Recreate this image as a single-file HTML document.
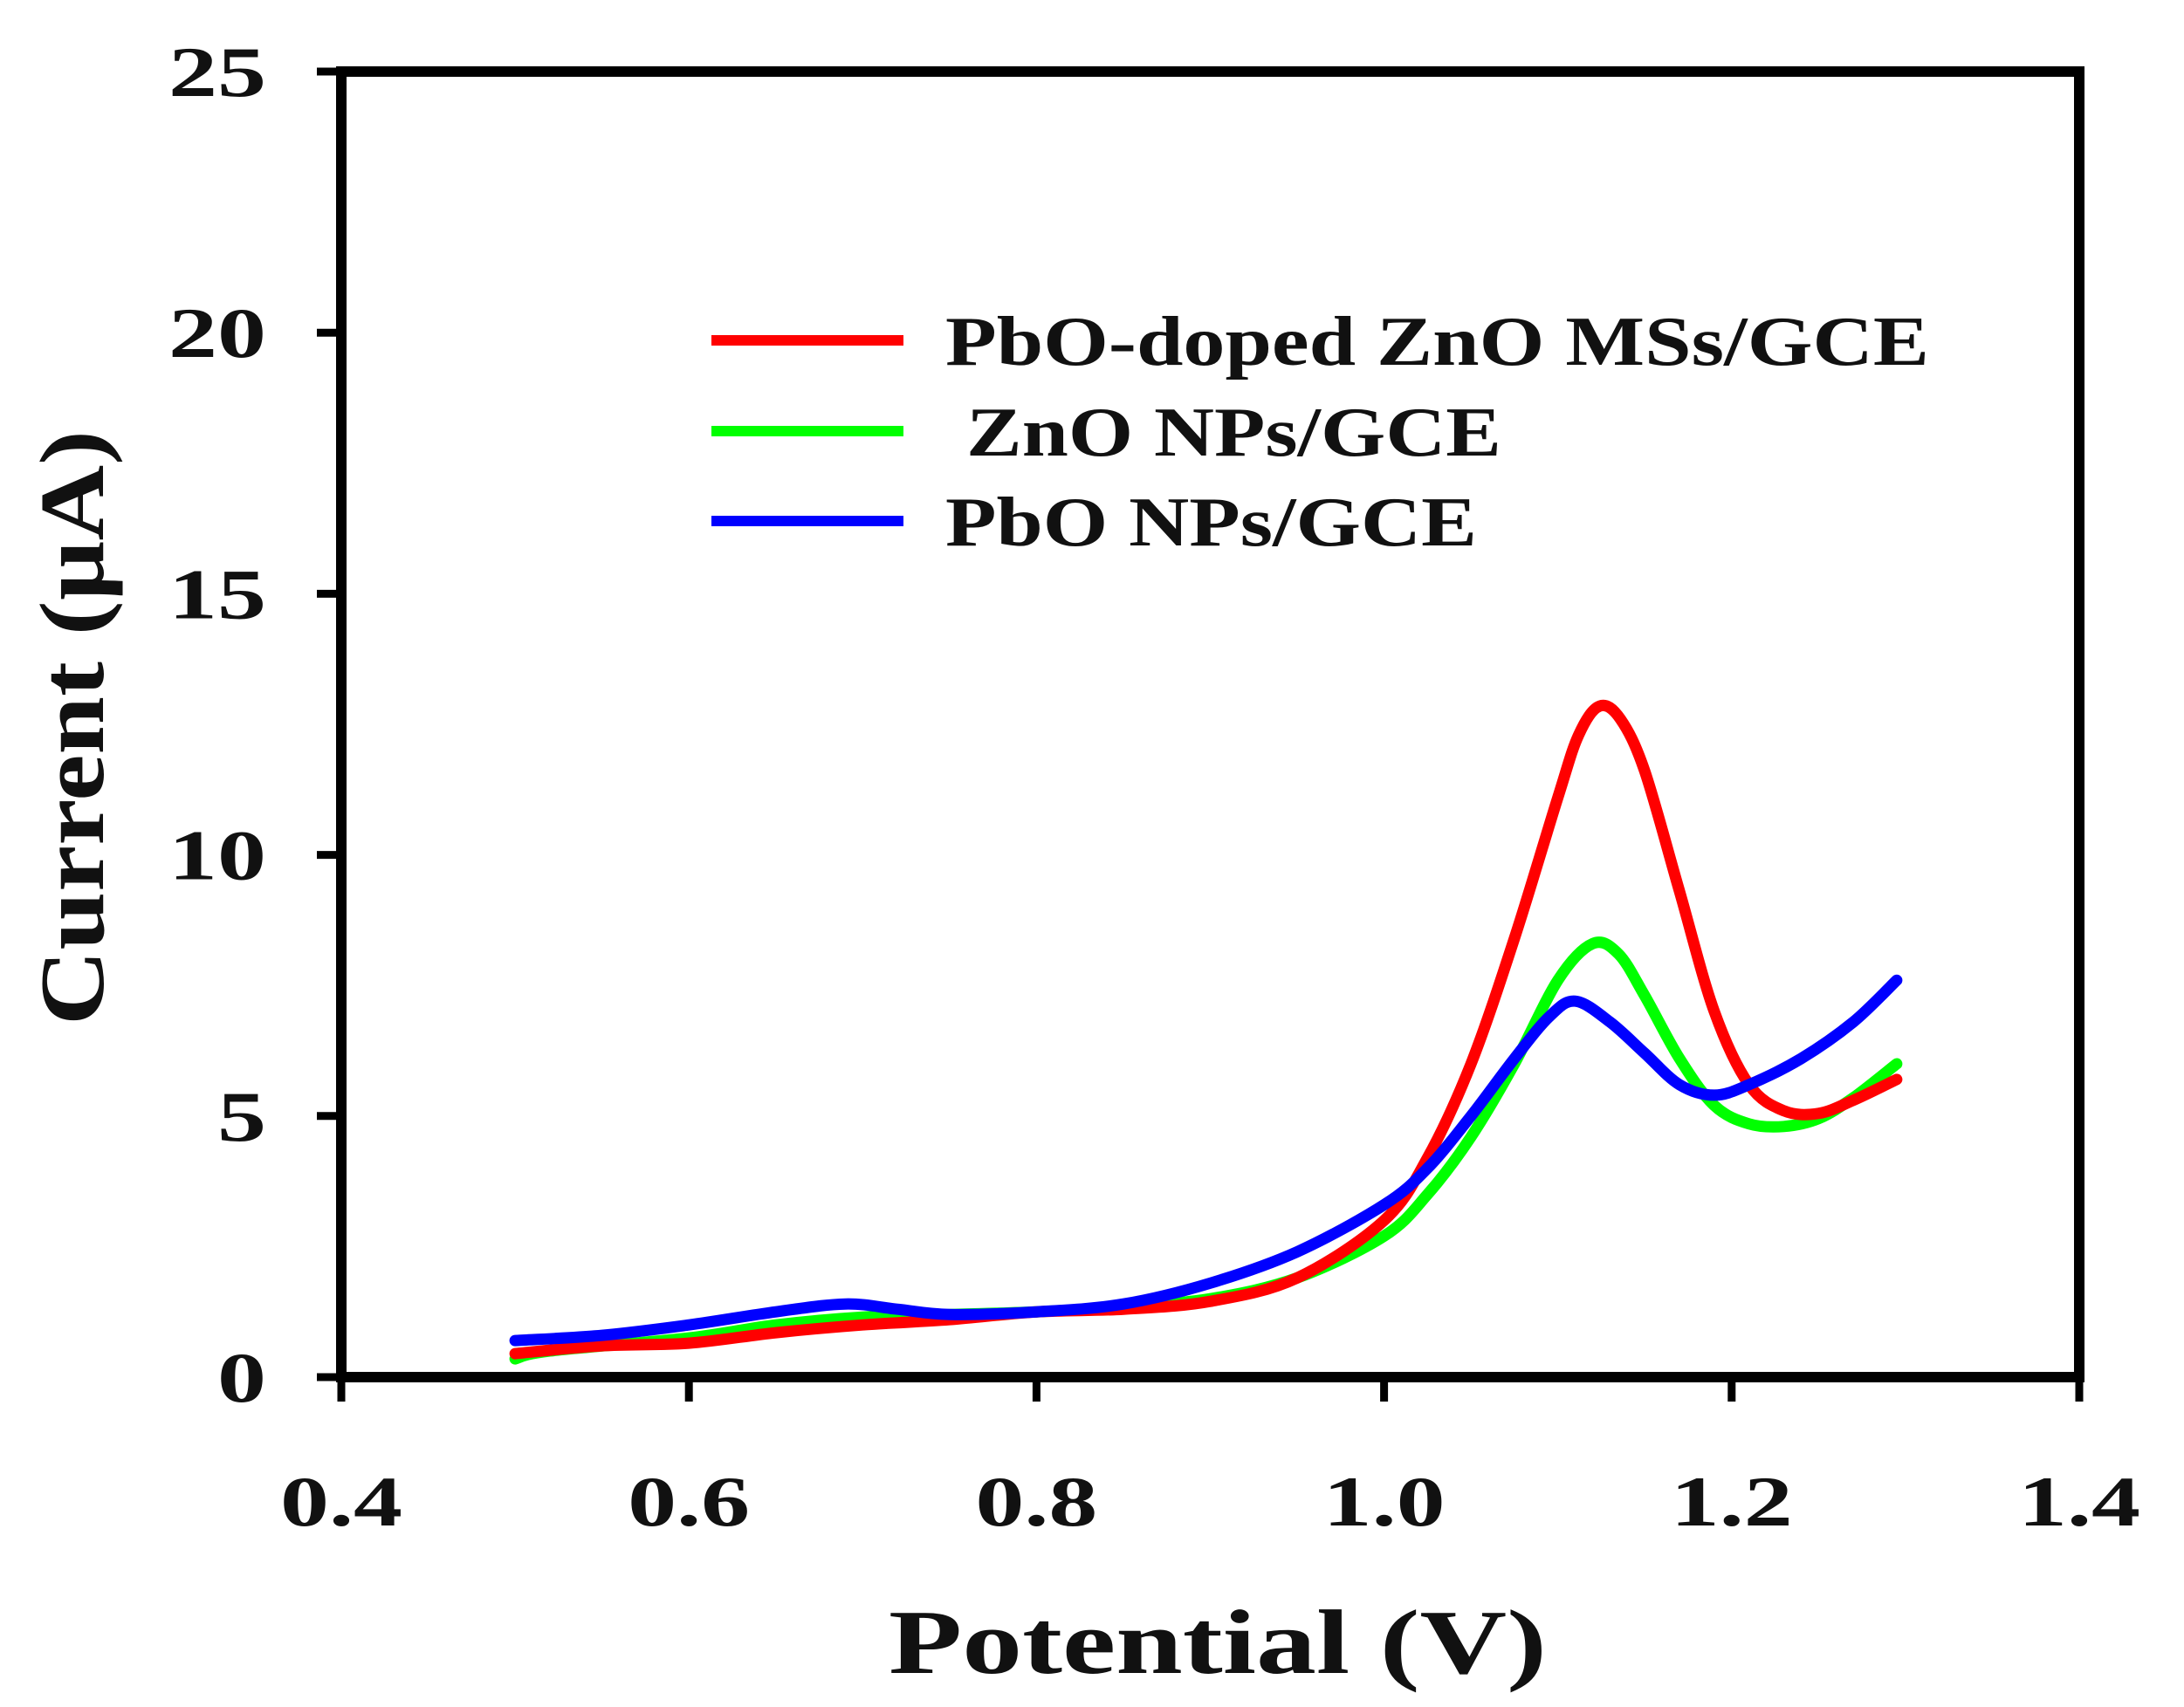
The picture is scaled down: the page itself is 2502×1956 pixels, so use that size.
<!DOCTYPE html>
<html><head><meta charset="utf-8"><style>
html,body{margin:0;padding:0;background:#fff}
svg{display:block}
text{font-family:"Liberation Serif",serif;font-weight:bold;fill:#111}
</style></head><body>
<svg id="chart" width="2502" height="1956" viewBox="0 0 2502 1956" xmlns="http://www.w3.org/2000/svg">
<rect x="391" y="82" width="1991" height="1496" fill="#fff" stroke="#000" stroke-width="12"/>
<g id="axes"></g>
<g id="series"></g>
<g id="legend">
  <line x1="815" y1="390" x2="1035" y2="390" stroke="#ff0000" stroke-width="12"/>
  <text x="1083" y="418" font-size="80" textLength="1127" lengthAdjust="spacingAndGlyphs">PbO-doped ZnO MSs/GCE</text>
  <line x1="815" y1="494" x2="1035" y2="494" stroke="#00ff00" stroke-width="12"/>
  <text x="1107" y="522" font-size="80" textLength="613" lengthAdjust="spacingAndGlyphs">ZnO NPs/GCE</text>
  <line x1="815" y1="597" x2="1035" y2="597" stroke="#0000ff" stroke-width="12"/>
  <text x="1083" y="625" font-size="80" textLength="609" lengthAdjust="spacingAndGlyphs">PbO NPs/GCE</text>
</g>
<text x="1395" y="1917" font-size="105" text-anchor="middle" textLength="754" lengthAdjust="spacingAndGlyphs">Potential (V)</text>
<text transform="translate(118,834) rotate(-90)" font-size="105" text-anchor="middle" textLength="682" lengthAdjust="spacingAndGlyphs">Current (µA)</text>
</svg>
<script>
const xTicks=[0.4,0.6,0.8,1.0,1.2,1.4];
const xTickLabels=["0.4","0.6","0.8","1.0","1.2","1.4"];
const yTicks=[0,5,10,15,20,25];
const yTickLabels=["0","5","10","15","20","25"];
const redX=[0.5,0.55,0.6,0.65,0.7,0.75,0.8,0.85,0.9,0.95,1.0,1.025,1.05,1.075,1.1,1.112,1.124,1.136,1.15,1.17,1.19,1.21,1.23,1.25,1.27,1.295];
const redY=[0.45,0.6,0.65,0.85,1.0,1.1,1.25,1.3,1.45,1.9,3.0,4.2,6.0,8.4,11.1,12.3,12.85,12.6,11.6,9.3,7.0,5.6,5.1,5.05,5.3,5.7];
const greenX=[0.5,0.52,0.6,0.65,0.7,0.75,0.8,0.85,0.9,0.95,1.0,1.025,1.05,1.075,1.1,1.12,1.135,1.15,1.17,1.19,1.21,1.23,1.25,1.27,1.295];
const greenY=[0.35,0.5,0.75,1.0,1.15,1.2,1.25,1.35,1.5,1.9,2.7,3.5,4.6,6.0,7.6,8.3,8.1,7.3,6.1,5.2,4.85,4.8,4.95,5.35,6.0];
const blueX=[0.5,0.55,0.6,0.65,0.69,0.72,0.75,0.8,0.85,0.9,0.95,1.0,1.025,1.05,1.075,1.095,1.11,1.13,1.15,1.17,1.19,1.21,1.24,1.27,1.295];
const blueY=[0.7,0.8,1.0,1.25,1.4,1.3,1.2,1.25,1.4,1.8,2.4,3.3,4.0,5.0,6.1,6.9,7.2,6.8,6.2,5.6,5.4,5.6,6.1,6.8,7.6];

const NS="http://www.w3.org/2000/svg";
const X0=391,X1=2382,Y0=1578,Y1=82;
function sx(v){return X0+(v-0.4)/(1.4-0.4)*(X1-X0);}
function sy(v){return Y0-(v/25)*(Y0-Y1);}
const axes=document.getElementById('axes');
xTicks.forEach((t,i)=>{
  const l=document.createElementNS(NS,'line');
  l.setAttribute('x1',sx(t));l.setAttribute('x2',sx(t));l.setAttribute('y1',Y0);l.setAttribute('y2',Y0+28);
  l.setAttribute('stroke','#000');l.setAttribute('stroke-width','9');
  
  
  axes.appendChild(l);
  const tx=document.createElementNS(NS,'text');
  tx.setAttribute('x',sx(t));tx.setAttribute('y',1748);tx.setAttribute('font-size','82');
  tx.setAttribute('text-anchor','middle');tx.setAttribute('textLength','140');tx.setAttribute('lengthAdjust','spacingAndGlyphs');
  tx.textContent=xTickLabels[i];
  
  
  axes.appendChild(tx);
});
yTicks.forEach((t,i)=>{
  const l=document.createElementNS(NS,'line');
  l.setAttribute('x1',X0-28);l.setAttribute('x2',X0);l.setAttribute('y1',sy(t));l.setAttribute('y2',sy(t));
  l.setAttribute('stroke','#000');l.setAttribute('stroke-width','9');
  
  
  axes.appendChild(l);
  const tx=document.createElementNS(NS,'text');
  tx.setAttribute('x',305);tx.setAttribute('y',sy(t)+28);tx.setAttribute('font-size','82');
  tx.setAttribute('text-anchor','end');
  tx.setAttribute('textLength',yTickLabels[i].length*56);tx.setAttribute('lengthAdjust','spacingAndGlyphs');
  tx.textContent=yTickLabels[i];
  
  
  axes.appendChild(tx);
});
const series=document.getElementById('series');
function drawSeries(xs,ys,color,name){
  const P=xs.map((x,i)=>[sx(x),sy(ys[i])]);
  let d='M'+P[0][0].toFixed(1)+','+P[0][1].toFixed(1);
  for(let i=0;i<P.length-1;i++){
    const p0=P[Math.max(0,i-1)],p1=P[i],p2=P[i+1],p3=P[Math.min(P.length-1,i+2)];
    const c1=[p1[0]+(p2[0]-p0[0])/6,p1[1]+(p2[1]-p0[1])/6];
    const c2=[p2[0]-(p3[0]-p1[0])/6,p2[1]-(p3[1]-p1[1])/6];
    d+='C'+c1[0].toFixed(1)+','+c1[1].toFixed(1)+' '+c2[0].toFixed(1)+','+c2[1].toFixed(1)+' '+p2[0].toFixed(1)+','+p2[1].toFixed(1);
  }
  const p=document.createElementNS(NS,'path');
  p.setAttribute('d',d);p.setAttribute('fill','none');p.setAttribute('stroke',color);
  p.setAttribute('stroke-width','13');p.setAttribute('stroke-linejoin','round');p.setAttribute('stroke-linecap','round');
  
  
  series.appendChild(p);
}
drawSeries(greenX,greenY,'#00ff00','series-zno-nps');
drawSeries(redX,redY,'#ff0000','series-pbo-doped-zno');
drawSeries(blueX,blueY,'#0000ff','series-pbo-nps');
</script>
</body></html>
